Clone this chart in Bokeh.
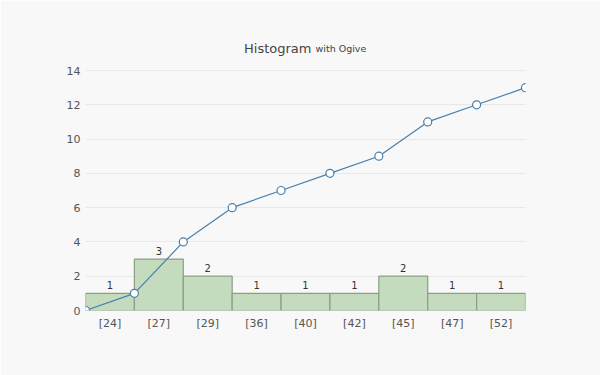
from bokeh.plotting import figure
from bokeh.models import Label, Range1d, FixedTicker, ColumnDataSource
from bokeh.embed import file_html
from bokeh.resources import INLINE
from bokeh.core.properties import value

categories = ["[24]", "[27]", "[29]", "[36]", "[40]", "[42]", "[45]", "[47]", "[52]"]
counts = [1, 3, 2, 1, 1, 1, 2, 1, 1]
ogive = [0, 1, 4, 6, 7, 8, 9, 11, 12, 13]
y_ticks = [0, 2, 4, 6, 8, 10, 12, 14]

FONT = "DejaVu Sans"
BG = "#f8f8f8"

n = len(categories)
left = list(range(n))
right = [i + 1 for i in range(n)]
mid = [i + 0.5 for i in range(n)]

# frame extended upward by 40px so the title can sit inside it (unit scale stays 240px per 14)
y_top = 14 * 280 / 240
p = figure(width=600, height=375, output_backend="svg", toolbar_location=None,
           x_range=Range1d(0, n), y_range=Range1d(0, y_top),
           frame_width=440, frame_height=280,
           min_border_left=85, min_border_right=75, min_border_top=30, min_border_bottom=65)
p.background_fill_color = BG
p.border_fill_color = BG
p.outline_line_color = None

src = ColumnDataSource(dict(left=left, right=right, top=counts, mid=mid,
                            lbl=[str(c) for c in counts]))
p.quad(left="left", right="right", bottom=0, top="top", source=src,
       fill_color="#c5dbbe", line_color="#8a9e85", line_width=1.2)
p.text(x="mid", y="top", text="lbl", source=src, text_font=value(FONT),
       text_font_size="10px", text_color="#333333", text_align="center",
       text_baseline="bottom", y_offset=-4)

xs = list(range(n + 1))
p.line(xs, ogive, line_color="#4a7fab", line_width=1.2)
p.scatter(xs, ogive, size=8, fill_color="white", line_color="#4a7fab", line_width=1.2)

p.xaxis.ticker = FixedTicker(ticks=mid)
p.xaxis.major_label_overrides = {m: c for m, c in zip(mid, categories)}
p.xaxis.axis_line_color = None
p.xaxis.major_tick_line_color = None
p.xaxis.major_tick_out = 0
p.xaxis.minor_tick_line_color = None
p.xaxis.major_label_text_font = FONT
p.xaxis.major_label_text_font_size = "11px"
p.xaxis.major_label_text_color = "#555555"
p.xaxis.major_label_standoff = 6
p.xgrid.grid_line_color = None

p.yaxis.ticker = FixedTicker(ticks=y_ticks)
p.yaxis.axis_line_color = None
p.yaxis.major_tick_line_color = None
p.yaxis.major_tick_out = 0
p.yaxis.minor_tick_line_color = None
p.yaxis.major_label_text_font = FONT
p.yaxis.major_label_text_font_size = "11px"
p.yaxis.major_label_text_color = "#555555"
p.yaxis.major_label_standoff = 5
p.ygrid.grid_line_color = "#e8e8e8"

p.add_layout(Label(x=n * 0.5, y=14, x_offset=6, y_offset=22,
                   text="Histogram", text_font=FONT, text_font_size="13px",
                   text_color="#444444", text_align="right", text_baseline="alphabetic"))
p.add_layout(Label(x=n * 0.5, y=14, x_offset=10, y_offset=22,
                   text="with Ogive", text_font=FONT, text_font_size="9.5px",
                   text_color="#444444", text_align="left", text_baseline="alphabetic"))

open("out.html", "w").write(file_html(p, INLINE))
